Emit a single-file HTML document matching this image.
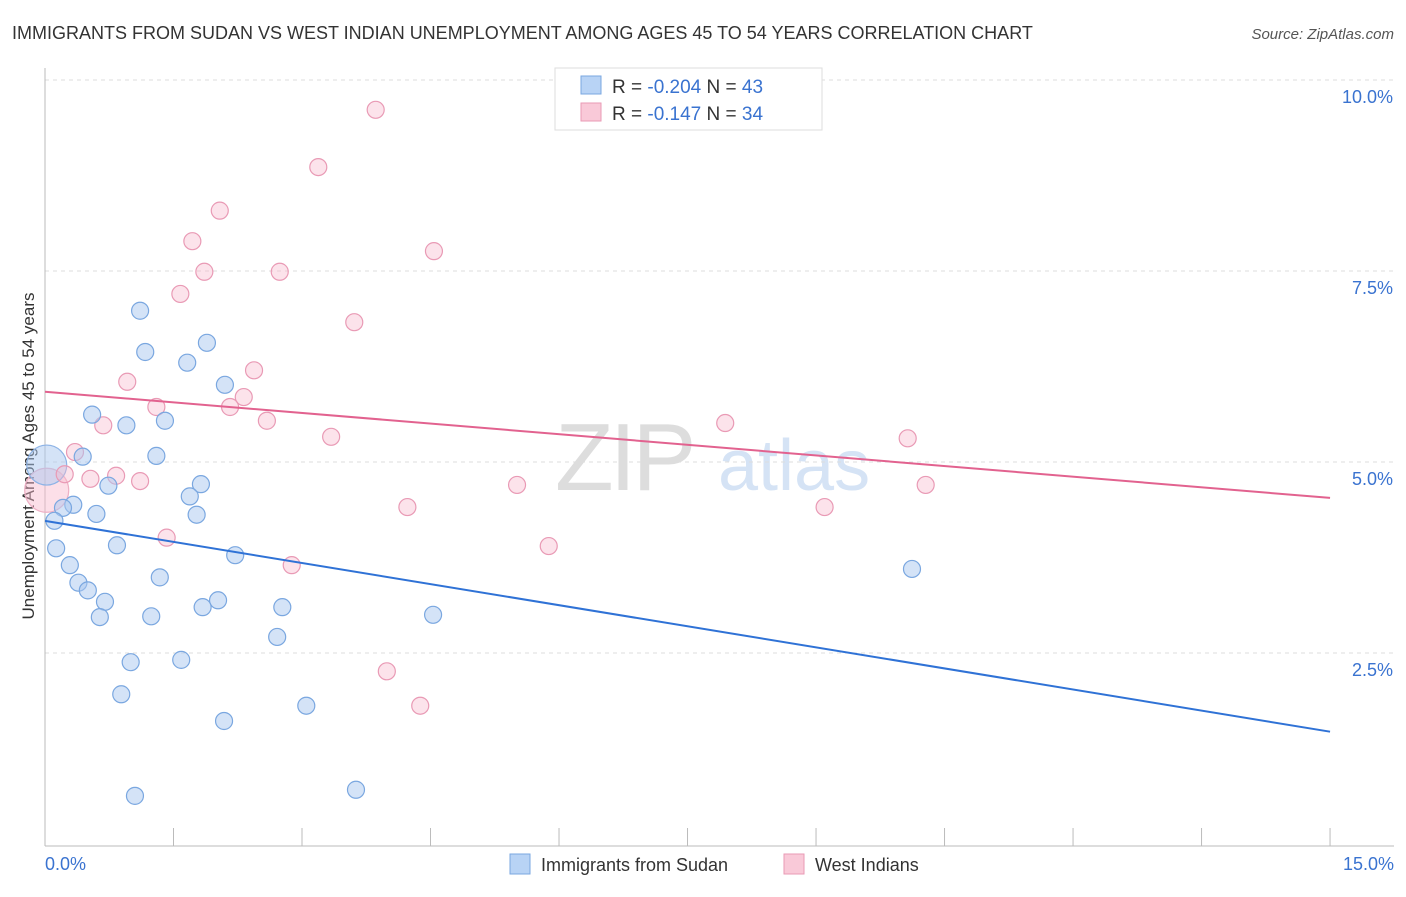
<!DOCTYPE html>
<html><head><meta charset="utf-8"><style>
body{margin:0;background:#fff;font-family:"Liberation Sans",sans-serif;}
svg text{font-family:"Liberation Sans",sans-serif;}
</style></head><body>
<svg id="chart" width="1406" height="892" xmlns="http://www.w3.org/2000/svg">
<text x="12" y="39" font-size="18" fill="#333">IMMIGRANTS FROM SUDAN VS WEST INDIAN UNEMPLOYMENT AMONG AGES 45 TO 54 YEARS CORRELATION CHART</text>
<text x="1394" y="39" font-size="15" fill="#555" text-anchor="end" font-style="italic">Source: ZipAtlas.com</text>
<text transform="translate(34,456) rotate(-90)" font-size="17" fill="#333" text-anchor="middle">Unemployment Among Ages 45 to 54 years</text>
<g>
<text x="555" y="490" font-size="96" fill="#ddd" font-family="Liberation Serif" letter-spacing="-4">ZIP</text>
<text x="718" y="490" font-size="72" fill="#d5e3f5">atlas</text>
</g>
<g id="grid"></g><g id="axes"></g><g id="pts"></g><g id="lines"></g>
<g>
<rect x="555" y="68" width="267" height="62" fill="#fff" stroke="#ddd"/>
<rect x="581" y="76" width="20" height="18" fill="#b8d3f5" stroke="#7aa7e0"/>
<rect x="581" y="103" width="20" height="18" fill="#f9c9d8" stroke="#e99ab5"/>
<text x="612" y="93" font-size="19" fill="#333">R = <tspan fill="#3a73d0">-0.204</tspan>   N = <tspan fill="#3a73d0">43</tspan></text>
<text x="612" y="120" font-size="19" fill="#333">R =  <tspan fill="#3a73d0">-0.147</tspan>   N = <tspan fill="#3a73d0">34</tspan></text>
</g>
<g>
<rect x="510" y="854" width="20" height="20" fill="#b8d3f5" stroke="#7aa7e0"/>
<text x="541" y="871" font-size="18" fill="#333">Immigrants from Sudan</text>
<rect x="784" y="854" width="20" height="20" fill="#f9c9d8" stroke="#e99ab5"/>
<text x="815" y="871" font-size="18" fill="#333">West Indians</text>
</g>
</svg>
<script>
const blueX=[1.11,1.17,1.89,1.66,2.10,0.55,0.95,1.40,1.30,0.44,0.74,1.82,1.69,0.33,0.21,0.60,1.77,0.11,0.13,0.84,2.22,0.29,1.34,0.39,0.50,0.70,2.02,1.84,2.77,0.64,1.24,4.53,2.71,1.00,1.59,0.89,3.05,2.09,1.05,3.63,10.12];
const blueY=[6.98,6.44,6.56,6.30,6.01,5.62,5.48,5.54,5.08,5.07,4.69,4.71,4.55,4.44,4.40,4.32,4.31,4.23,3.87,3.91,3.78,3.65,3.49,3.42,3.32,3.17,3.19,3.10,3.10,2.97,2.98,3.00,2.71,2.38,2.41,1.96,1.81,1.61,0.63,0.71,3.60];
const pinkX=[3.86,3.19,2.04,1.72,4.54,1.86,2.74,1.58,3.61,2.44,0.96,2.32,1.30,2.16,0.68,2.59,7.94,3.34,10.07,0.35,0.23,0.53,0.83,1.11,5.51,10.28,4.23,9.10,1.42,5.88,2.88,3.99,4.38];
const pinkY=[9.61,8.86,8.29,7.89,7.76,7.49,7.49,7.20,6.83,6.20,6.05,5.85,5.72,5.72,5.48,5.54,5.51,5.33,5.31,5.13,4.84,4.78,4.82,4.75,4.70,4.70,4.41,4.41,4.01,3.90,3.65,2.26,1.81];
const bigBlue=[0.02,4.96];
const bigPink=[0.02,4.63];
const blueTrend=[4.23,1.47];
const pinkTrend=[5.92,4.53];
const yTicks=[2.5,5.0,7.5,10.0];
const xTickVals=[0,1.5,3,4.5,6,7.5,9,10.5,12,13.5,15];
const NS='http://www.w3.org/2000/svg';
const sx=v=>45+v*85.67, sy=v=>844-v*76.4;
function mk(tag,attrs,parent){const e=document.createElementNS(NS,tag);for(const k in attrs)e.setAttribute(k,attrs[k]);document.getElementById(parent).appendChild(e);return e;}
yTicks.forEach(t=>{
 const l=mk('line',{x1:45,x2:1394,y1:sy(t),y2:sy(t),stroke:'#ddd','stroke-dasharray':'4,4'},'grid');
 
 
 const tx=mk('text',{x:1393,y:sy(t)+23,'font-size':18,fill:'#3a73d0','text-anchor':'end'},'grid');
 tx.textContent=t.toFixed(1)+'%';
 
 
});
const ax=mk('line',{x1:45,x2:1394,y1:846,y2:846,stroke:'#bbb'},'axes');


const ay=mk('line',{x1:45,x2:45,y1:68,y2:846,stroke:'#bbb'},'axes');


xTickVals.forEach(t=>{
 const l=mk('line',{x1:sx(t),x2:sx(t),y1:828,y2:846,stroke:'#bbb'},'axes');
 
 
});
const xl0=mk('text',{x:45,y:870,'font-size':18,fill:'#3a73d0'},'axes');xl0.textContent='0.0%';


const xl1=mk('text',{x:1394,y:870,'font-size':18,fill:'#3a73d0','text-anchor':'end'},'axes');xl1.textContent='15.0%';


function dot(x,y,r,fill,stroke,name){const c=mk('circle',{cx:sx(x),cy:sy(y),r:r,fill:fill,stroke:stroke,'stroke-width':1.2},'pts');
 
 }
dot(bigPink[0],bigPink[1],22,'rgba(248,185,205,0.45)','#eeb0c5','west-indians-point');
dot(bigBlue[0],bigBlue[1],20,'rgba(170,200,240,0.5)','#8db3e6','sudan-point');
pinkX.forEach((x,i)=>dot(x,pinkY[i],8.5,'rgba(248,185,205,0.4)','#e99ab5','west-indians-point'));
blueX.forEach((x,i)=>dot(x,blueY[i],8.5,'rgba(170,200,240,0.5)','#7aa7e0','sudan-point'));
const bl=mk('line',{x1:sx(0),x2:sx(15),y1:sy(blueTrend[0]),y2:sy(blueTrend[1]),stroke:'#2f72d6','stroke-width':2},'lines');


const pl=mk('line',{x1:sx(0),x2:sx(15),y1:sy(pinkTrend[0]),y2:sy(pinkTrend[1]),stroke:'#e2628f','stroke-width':2},'lines');


</script>
</body></html>
